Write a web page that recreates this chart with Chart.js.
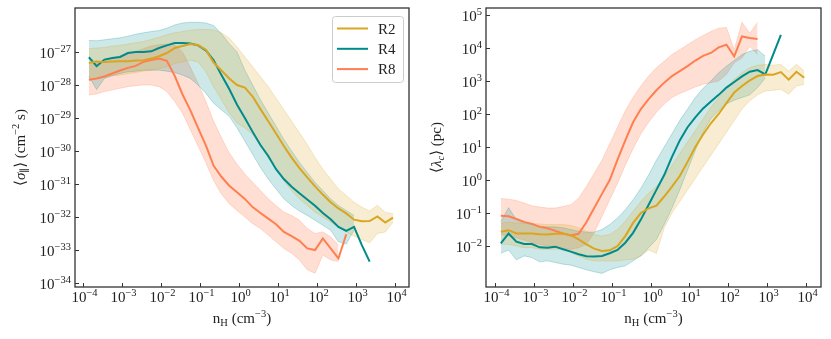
<!DOCTYPE html>
<html>
<head>
<meta charset="utf-8">
<script src="https://cdn.jsdelivr.net/npm/chart.js@4"></script>
<style>
  body { margin: 0; background: #fff; }
  #left { position: absolute; left: 0; top: 0; width: 415px; height: 339px; }
  #right { position: absolute; left: 415px; top: 0; width: 416px; height: 339px; }
</style>
</head>
<body>
<div id="left"><canvas id="sigmaChart" width="415" height="339"></canvas></div>
<div id="right"><canvas id="lambdaChart" width="416" height="339"></canvas></div>
<script>
// all values below are log10
const logNH = [-3.85, -3.65, -3.45, -3.25, -3.05, -2.85, -2.65, -2.45, -2.25, -2.05,
  -1.85, -1.65, -1.45, -1.25, -1.05, -0.85, -0.65, -0.45, -0.25, -0.05,
  0.15, 0.35, 0.55, 0.75, 0.95, 1.15, 1.35, 1.55, 1.75, 1.95,
  2.15, 2.35, 2.55, 2.75, 2.95, 3.15, 3.35, 3.55, 3.75, 3.95];

const labels = ['R2', 'R4', 'R8'];
const colors = ['#DAA520', '#008B8B', '#FF7F50'];

// left panel: <sigma_par> (cm^-2 s)
const sigR2 = [-27.33, -27.29, -27.30, -27.29, -27.28, -27.28, -27.26, -27.25, -27.20, -27.13,
  -27.03, -26.88, -26.82, -26.76, -26.79, -26.93, -27.32, -27.56, -27.80, -28.00,
  -28.08, -28.35, -28.73, -29.10, -29.47, -29.85, -30.20, -30.52, -30.80, -31.07,
  -31.32, -31.55, -31.74, -31.89, -32.08, -32.13, -32.12, -31.98, -32.17, -32.02];
const sigR2Hi = [-26.90, -26.88, -26.86, -26.82, -26.80, -26.76, -26.72, -26.68, -26.62, -26.55,
  -26.48, -26.42, -26.38, -26.34, -26.32, -26.32, -26.33, -26.42, -26.58, -26.85,
  -27.15, -27.45, -27.75, -28.05, -28.40, -28.75, -29.10, -29.45, -29.80, -30.20,
  -30.55, -30.85, -31.15, -31.35, -31.55, -31.70, -31.82, -31.64, -31.86, -31.90];
const sigR2Lo = [-27.85, -27.80, -27.75, -27.72, -27.70, -27.66, -27.62, -27.58, -27.55, -27.50,
  -27.45, -27.35, -27.30, -27.25, -27.30, -27.60, -28.05, -28.45, -28.85, -29.15,
  -29.30, -29.50, -29.85, -30.20, -30.55, -30.90, -31.20, -31.45, -31.65, -31.85,
  -32.00, -32.15, -32.30, -32.45, -32.58, -32.68, -32.78, -32.50, -32.45, -32.15];

const sigR4 = [-27.16, -27.43, -27.23, -27.18, -27.15, -27.03, -27.00, -27.00, -26.98, -26.88,
  -26.80, -26.73, -26.73, -26.74, -26.80, -26.95, -27.25, -27.70, -28.12, -28.60,
  -29.00, -29.42, -29.82, -30.15, -30.55, -30.85, -31.08, -31.28, -31.47, -31.66,
  -31.88, -32.07, -32.30, -32.42, -32.30, -32.85, -33.35];
const sigR4Hi = [-26.65, -26.66, -26.63, -26.60, -26.57, -26.52, -26.46, -26.42, -26.38, -26.35,
  -26.28, -26.18, -26.12, -26.10, -26.10, -26.12, -26.20, -26.45, -26.75, -27.00,
  -27.55, -28.00, -28.45, -28.85, -29.25, -29.65, -30.00, -30.35, -30.65, -30.95,
  -31.20, -31.45, -31.65, -31.80, -31.95];
const sigR4Lo = [-27.74, -28.14, -27.80, -27.72, -27.65, -27.60, -27.58, -27.55, -27.55, -27.55,
  -27.58, -27.62, -27.70, -27.80, -28.00, -28.25, -28.55, -28.75, -28.95, -29.30,
  -29.70, -30.10, -30.50, -30.85, -31.15, -31.45, -31.65, -31.82, -31.95, -32.10,
  -32.25, -32.40, -32.75, -32.82, -32.40];

const sigR8 = [-27.84, -27.80, -27.74, -27.65, -27.56, -27.48, -27.42, -27.30, -27.24, -27.20,
  -27.27, -27.72, -28.28, -28.76, -29.30, -29.83, -30.45, -30.78, -31.05, -31.25,
  -31.45, -31.70, -31.88, -32.05, -32.22, -32.45, -32.58, -32.72, -32.95, -33.00,
  -32.65, -32.95, -33.25, -32.52];
const sigR8Hi = [-27.40, -27.35, -27.28, -27.20, -27.12, -27.05, -26.98, -26.90, -26.82, -26.78,
  -26.76, -26.78, -27.00, -27.45, -27.95, -28.50, -29.10, -29.60, -30.05, -30.40,
  -30.70, -30.95, -31.20, -31.45, -31.65, -31.85, -31.95, -32.10, -32.35, -32.50,
  -32.45, -32.60, -32.85];
const sigR8Lo = [-28.30, -28.27, -28.20, -28.15, -28.10, -28.05, -28.02, -28.00, -28.00, -28.05,
  -28.20, -28.50, -28.85, -29.35, -29.85, -30.35, -30.90, -31.30, -31.60, -31.80,
  -32.00, -32.20, -32.35, -32.55, -32.75, -32.95, -33.10, -33.30, -33.60, -33.70,
  -33.15, -33.30, -33.35];

// right panel: <lambda_c> (pc)
const lamR2 = [-1.57, -1.52, -1.62, -1.62, -1.62, -1.64, -1.65, -1.63, -1.62, -1.67,
  -1.80, -1.95, -2.08, -2.15, -2.13, -2.00, -1.70, -1.30, -1.00, -0.86,
  -0.78, -0.50, -0.20, 0.12, 0.55, 1.00, 1.38, 1.72, 2.00, 2.33,
  2.65, 2.85, 3.02, 3.15, 3.20, 3.19, 3.27, 3.04, 3.28, 3.10];
const lamR2Hi = [-1.30, -1.28, -1.30, -1.30, -1.32, -1.33, -1.35, -1.35, -1.35, -1.38,
  -1.45, -1.55, -1.65, -1.70, -1.65, -1.50, -1.25, -0.95, -0.65, -0.40,
  -0.20, 0.10, 0.45, 0.80, 1.15, 1.50, 1.85, 2.20, 2.50, 2.80,
  3.05, 3.25, 3.40, 3.48, 3.50, 3.48, 3.50, 3.30, 3.50, 3.30];
const lamR2Lo = [-1.95, -1.95, -2.00, -2.05, -2.05, -2.10, -2.10, -2.10, -2.10, -2.20,
  -2.30, -2.40, -2.45, -2.45, -2.45, -2.45, -2.42, -2.40, -2.30, -2.12,
  -2.22, -1.45, -1.00, -0.65, -0.30, 0.05, 0.40, 0.75, 1.10, 1.45,
  1.80, 2.15, 2.40, 2.58, 2.70, 2.72, 2.75, 2.60, 2.85, 2.90];

const lamR4 = [-1.92, -1.62, -1.87, -1.94, -1.94, -2.04, -2.05, -2.02, -2.10, -2.17,
  -2.25, -2.31, -2.32, -2.30, -2.22, -2.12, -1.90, -1.60, -1.20, -0.75,
  -0.30, 0.15, 0.70, 1.20, 1.60, 1.90, 2.17, 2.38, 2.58, 2.80,
  2.97, 3.14, 3.28, 3.33, 3.20, 3.80, 4.40];
const lamR4Hi = [-1.25, -0.84, -1.20, -1.30, -1.35, -1.40, -1.42, -1.42, -1.45, -1.50,
  -1.55, -1.58, -1.58, -1.50, -1.35, -1.15, -0.90, -0.60, -0.25, 0.15,
  0.60, 1.00, 1.40, 1.80, 2.15, 2.50, 2.78, 3.00, 3.25, 3.45,
  3.62, 3.80, 3.90, 3.95, 3.75];
const lamR4Lo = [-2.22, -2.12, -2.42, -2.30, -2.35, -2.48, -2.45, -2.50, -2.55, -2.58,
  -2.65, -2.72, -2.78, -2.83, -2.72, -2.65, -2.60, -2.45, -2.30, -2.05,
  -1.80, -1.35, -0.85, -0.30, 0.30, 0.90, 1.45, 1.85, 2.10, 2.30,
  2.42, 2.50, 2.58, 2.80, 3.09];

const lamR8 = [-1.08, -1.10, -1.18, -1.27, -1.33, -1.42, -1.46, -1.54, -1.62, -1.68,
  -1.63, -1.28, -0.85, -0.42, 0.00, 0.62, 1.20, 1.75, 2.15, 2.45,
  2.72, 2.95, 3.15, 3.30, 3.45, 3.62, 3.76, 3.85, 4.02, 4.10,
  3.75, 4.35, 4.30, 4.27];
const lamR8Hi = [-0.56, -0.58, -0.62, -0.70, -0.78, -0.82, -0.85, -0.85, -0.80, -0.75,
  -0.55, -0.20, 0.20, 0.60, 1.10, 1.60, 2.10, 2.50, 2.85, 3.15,
  3.40, 3.60, 3.80, 3.95, 4.10, 4.25, 4.38, 4.50, 4.60, 4.62,
  3.95, 4.78, 4.45, 4.78];
const lamR8Lo = [-1.65, -1.70, -1.75, -1.82, -1.90, -1.95, -2.00, -2.05, -2.08, -2.10,
  -2.05, -1.95, -1.60, -1.10, -0.60, -0.10, 0.45, 0.95, 1.40, 1.75,
  2.05, 2.30, 2.50, 2.62, 2.72, 2.82, 2.90, 2.95, 3.00, 3.20,
  3.55, 3.70, 4.05, 3.80];

// tick label exponents
const xTickExps = [-4, -3, -2, -1, 0, 1, 2, 3, 4];
const sigTickExps = [-34, -33, -32, -31, -30, -29, -28, -27];
const lamTickExps = [-2, -1, 0, 1, 2, 3, 4, 5];

const FONT = '"Liberation Serif", "DejaVu Serif", serif';
const AXIS = '#333';

function pts(ys) {
  return ys.map((y, i) => ({ x: Math.pow(10, logNH[i]), y: Math.pow(10, y) }));
}

function rgba(hex, a) {
  const n = parseInt(hex.slice(1), 16);
  return `rgba(${n >> 16}, ${(n >> 8) & 255}, ${n & 255}, ${a})`;
}

function buildDatasets(series) {
  const out = [];
  series.forEach((s, i) => {
    const alpha = i === 2 ? 0.25 : 0.2;
    out.push({ data: pts(s.hi), fill: '+1', backgroundColor: rgba(colors[i], alpha),
      borderColor: rgba(colors[i], 0.3), borderWidth: 0.8, pointRadius: 0, order: 10 });
    out.push({ data: pts(s.lo), fill: false, borderColor: rgba(colors[i], 0.3),
      borderWidth: 0.8, pointRadius: 0, order: 10 });
  });
  series.forEach((s, i) => {
    out.push({ label: labels[i], data: pts(s.mid), fill: false, borderColor: colors[i],
      borderWidth: 2, pointRadius: 0, order: 1 });
  });
  return out;
}

// text with super/subscripts, parts = [[text, kind], ...]
function drawRich(ctx, parts, x, y, align, size) {
  const specs = parts.map(([t, k]) => {
    const small = k === 'sup' || k === 'sub' || k === 'subit';
    const fs = small ? size * 0.7 : size;
    const style = (k === 'it' || k === 'subit') ? 'italic ' : '';
    const dy = k === 'sup' ? -size * 0.4 : (k === 'sub' || k === 'subit') ? size * 0.22 : 0;
    return { t, font: `${style}${fs}px ${FONT}`, dy };
  });
  let w = 0;
  specs.forEach(s => { ctx.font = s.font; s.w = ctx.measureText(s.t).width; w += s.w; });
  let cx = align === 'center' ? x - w / 2 : align === 'right' ? x - w : x;
  ctx.textAlign = 'left';
  ctx.textBaseline = 'alphabetic';
  specs.forEach(s => { ctx.font = s.font; ctx.fillText(s.t, cx, y + s.dy); cx += s.w; });
}

function expLabel(v) {
  const e = Math.round(Math.log10(v));
  return [['10', ''], [(e < 0 ? '\u2212' : '') + Math.abs(e), 'sup']];
}

const axesPlugin = {
  id: 'axesDecor',
  afterDraw(chart, args, opts) {
    const ctx = chart.ctx;
    const a = chart.chartArea;
    const xs = chart.scales.x, ys = chart.scales.y;
    ctx.save();
    ctx.strokeStyle = AXIS;
    ctx.fillStyle = '#222';
    ctx.lineWidth = 1.3;
    ctx.strokeRect(a.left, a.top, a.right - a.left, a.bottom - a.top);

    ctx.lineWidth = 1;
    xs.ticks.forEach(t => {
      const px = Math.round(xs.getPixelForValue(t.value)) + 0.5;
      ctx.beginPath(); ctx.moveTo(px, a.bottom); ctx.lineTo(px, a.bottom - 4); ctx.stroke();
      drawRich(ctx, expLabel(t.value), px + 1, a.bottom + 14.5, 'center', 15);
    });
    ys.ticks.forEach(t => {
      const py = Math.round(ys.getPixelForValue(t.value)) + 0.5;
      ctx.beginPath(); ctx.moveTo(a.left, py); ctx.lineTo(a.left + 4, py); ctx.stroke();
      drawRich(ctx, expLabel(t.value), a.left - 4, py + 5, 'right', 15);
    });

    drawRich(ctx, [['n', ''], ['H', 'sub'], [' (cm', ''], ['\u22123', 'sup'], [')', '']],
      (a.left + a.right) / 2, 323, 'center', 15);

    ctx.save();
    ctx.translate(opts.titleX, (a.top + a.bottom) / 2);
    ctx.rotate(-Math.PI / 2);
    drawRich(ctx, opts.yTitle, 0, 0, 'center', 15);
    ctx.restore();

    if (opts.legend) {
      const bx = 332, by = 16, bw = 71, bh = 66;
      ctx.beginPath();
      ctx.roundRect(bx + 0.5, by + 0.5, bw, bh, 3);
      ctx.fillStyle = 'rgba(255,255,255,0.8)';
      ctx.fill();
      ctx.strokeStyle = '#cccccc';
      ctx.stroke();
      labels.forEach((lab, i) => {
        const ly = by + 12.5 + i * 20.3;
        ctx.strokeStyle = colors[i];
        ctx.lineWidth = 2;
        ctx.beginPath(); ctx.moveTo(bx + 5, ly); ctx.lineTo(bx + 36, ly); ctx.stroke();
        ctx.fillStyle = '#222';
        drawRich(ctx, [[lab, '']], bx + 46, ly + 5, 'left', 15);
      });
    }
    ctx.restore();
  }
};

function makeChart(id, series, xr, yr, yExps, yWidth, padRight, decor) {
  const ctx = document.getElementById(id).getContext('2d');
  return new Chart(ctx, {
    type: 'line',
    data: { datasets: buildDatasets(series) },
    options: {
      responsive: false,
      animation: false,
      layout: { padding: { top: 8, right: padRight, left: 0, bottom: 0 } },
      plugins: { legend: { display: false }, tooltip: { enabled: false }, axesDecor: decor },
      elements: { line: { tension: 0 } },
      scales: {
        x: {
          type: 'logarithmic',
          min: Math.pow(10, xr[0]), max: Math.pow(10, xr[1]),
          grid: { display: false }, border: { display: false }, ticks: { display: false },
          afterBuildTicks: s => { s.ticks = xTickExps.map(e => ({ value: Math.pow(10, e) })); },
          afterFit: s => { s.height = 52; }
        },
        y: {
          type: 'logarithmic',
          min: Math.pow(10, yr[0]), max: Math.pow(10, yr[1]),
          grid: { display: false }, border: { display: false }, ticks: { display: false },
          afterBuildTicks: s => { s.ticks = yExps.map(e => ({ value: Math.pow(10, e) })); },
          afterFit: s => { s.width = yWidth; }
        }
      }
    },
    plugins: [axesPlugin]
  });
}

makeChart('sigmaChart',
  [{ mid: sigR2, hi: sigR2Hi, lo: sigR2Lo }, { mid: sigR4, hi: sigR4Hi, lo: sigR4Lo }, { mid: sigR8, hi: sigR8Hi, lo: sigR8Lo }],
  [-4.205, 4.359], [-34.12, -25.667], sigTickExps, 75, 6,
  { legend: true, titleX: 25,
    yTitle: [['\u27E8', ''], ['\u03C3', 'it'], ['\u2225', 'sub'], ['\u27E9', ''], [' (cm', ''], ['\u22122', 'sup'], [' s)', '']] });

makeChart('lambdaChart',
  [{ mid: lamR2, hi: lamR2Hi, lo: lamR2Lo }, { mid: lamR4, hi: lamR4Hi, lo: lamR4Lo }, { mid: lamR8, hi: lamR8Hi, lo: lamR8Lo }],
  [-4.231, 4.381], [-3.242, 5.212], lamTickExps, 71, 10,
  { legend: false, titleX: 26,
    yTitle: [['\u27E8', ''], ['\u03BB', 'it'], ['c', 'subit'], ['\u27E9', ''], [' (pc)', '']] });
</script>
</body>
</html>
